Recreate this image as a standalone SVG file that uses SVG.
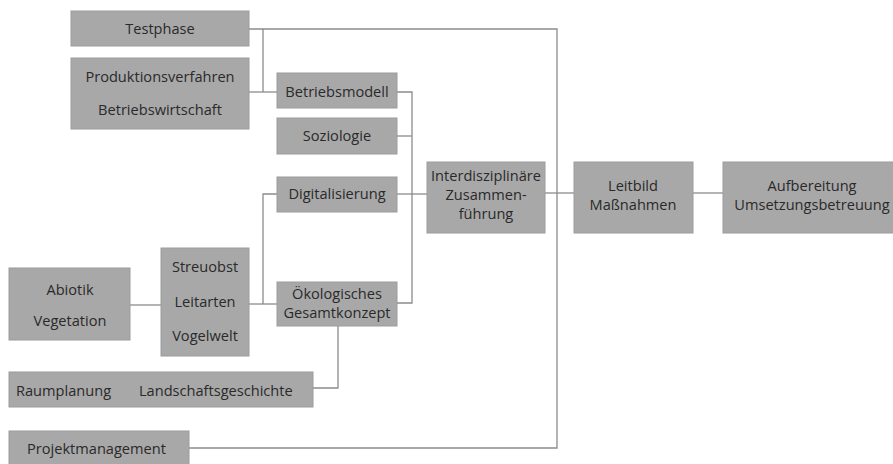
<svg xmlns="http://www.w3.org/2000/svg" width="893" height="464" viewBox="0 0 893 464">
<style>
.box{fill:#a8a8a8;stroke:#9c9c9c;stroke-width:1}
.t{font-family:"Open Sans","Noto Sans",sans-serif;font-size:14.6px;fill:#2a2a2a;text-anchor:middle}
.ts{font-family:"Open Sans","Noto Sans",sans-serif;font-size:14.6px;fill:#2a2a2a}
.c{fill:none;stroke:#8c8c8c;stroke-width:1.3}
</style>
<rect width="893" height="464" fill="#ffffff"/>
<g id="connectors">
<polyline class="c" points="249,29 557,29 557,448 189,448"/>
<line class="c" x1="263" y1="29" x2="263" y2="92"/>
<line class="c" x1="249" y1="92" x2="277" y2="92"/>
<polyline class="c" points="397,92 412,92 412,303 397,303"/>
<line class="c" x1="397" y1="136" x2="412" y2="136"/>
<line class="c" x1="397" y1="194" x2="427" y2="194"/>
<polyline class="c" points="277,194 263,194 263,304"/>
<line class="c" x1="248" y1="304" x2="277" y2="304"/>
<line class="c" x1="130" y1="305" x2="161" y2="305"/>
<polyline class="c" points="338,326 338,388 313,388"/>
<line class="c" x1="545" y1="193" x2="574" y2="193"/>
<line class="c" x1="693" y1="193" x2="723" y2="193"/>
</g>
<g id="testphase"><rect class="box" x="71" y="11" width="178" height="35"/><text class="t" x="160" y="34">Testphase</text></g>
<g id="produktion"><rect class="box" x="71" y="58" width="178" height="71"/><text class="t" x="160" y="82">Produktionsverfahren</text><text class="t" x="160" y="115">Betriebswirtschaft</text></g>
<g id="betriebsmodell"><rect class="box" x="277" y="73" width="120" height="35"/><text class="t" x="337" y="97">Betriebsmodell</text></g>
<g id="soziologie"><rect class="box" x="277" y="118" width="120" height="36"/><text class="t" x="337" y="141">Soziologie</text></g>
<g id="digitalisierung"><rect class="box" x="277" y="177" width="120" height="35"/><text class="t" x="337" y="199">Digitalisierung</text></g>
<g id="oekologisch"><rect class="box" x="277" y="282" width="120" height="44"/><text class="t" x="337" y="299">Ökologisches</text><text class="t" x="337" y="318">Gesamtkonzept</text></g>
<g id="interdisziplinaer"><rect class="box" x="427" y="162" width="118" height="71"/><text class="t" x="486" y="181">Interdisziplinäre</text><text class="t" x="486" y="200">Zusammen-</text><text class="t" x="486" y="219">führung</text></g>
<g id="leitbild"><rect class="box" x="574" y="162" width="119" height="71"/><text class="t" x="633" y="191">Leitbild</text><text class="t" x="633" y="210">Maßnahmen</text></g>
<g id="aufbereitung"><rect class="box" x="723" y="162" width="180" height="71"/><text class="t" x="812" y="191">Aufbereitung</text><text class="t" x="812" y="210">Umsetzungsbetreuung</text></g>
<g id="abiotik"><rect class="box" x="9" y="268" width="121" height="72"/><text class="t" x="70" y="295">Abiotik</text><text class="t" x="70" y="326">Vegetation</text></g>
<g id="streuobst"><rect class="box" x="161" y="248" width="88" height="108"/><text class="t" x="205" y="272">Streuobst</text><text class="t" x="205" y="307">Leitarten</text><text class="t" x="205" y="341">Vogelwelt</text></g>
<g id="raumplanung"><rect class="box" x="9" y="372" width="304" height="35"/><text class="ts" x="16" y="396">Raumplanung</text><text class="ts" x="139" y="396">Landschaftsgeschichte</text></g>
<g id="projektmanagement"><rect class="box" x="9" y="431" width="180" height="40"/><text class="ts" x="27" y="454">Projektmanagement</text></g>
</svg>
